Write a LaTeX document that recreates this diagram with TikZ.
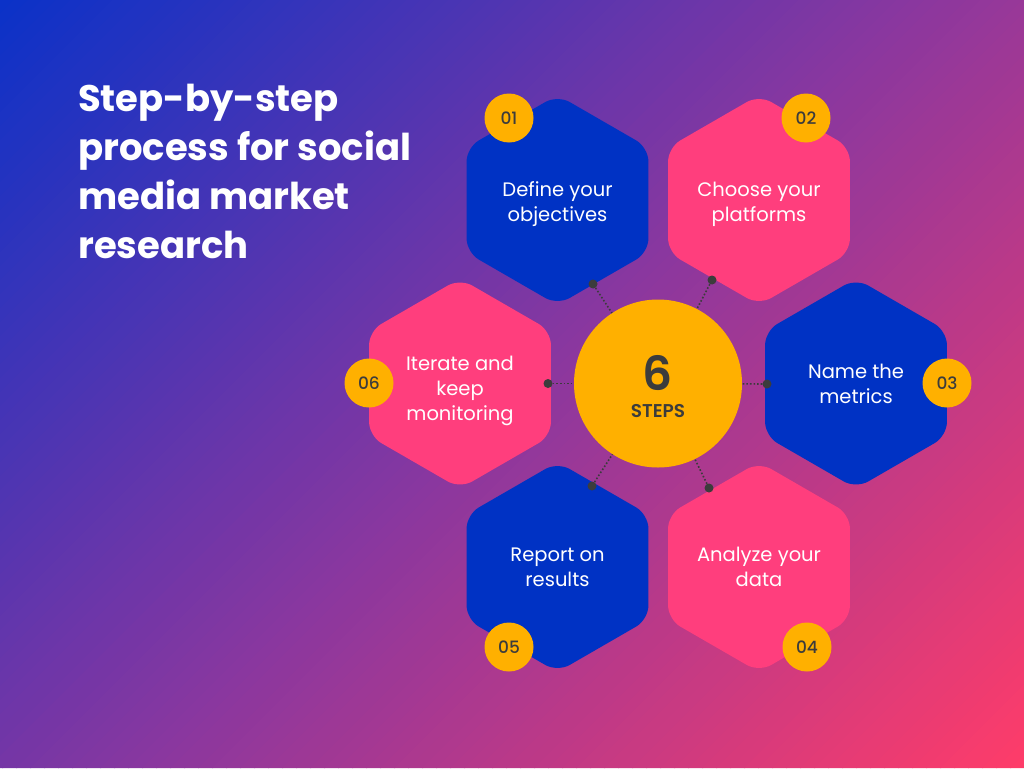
\documentclass[tikz,border=0pt]{standalone}
\usepackage{fontspec}
\setmainfont{Poppins}
\newfontfamily\popmed{Poppins Medium}
\newfontfamily\popsemi{Poppins SemiBold}
\usetikzlibrary{shapes.geometric}
\definecolor{bgblue}{RGB}{10,50,200}
\definecolor{bgpurple}{RGB}{135,55,160}
\definecolor{bgpink}{RGB}{255,60,105}
\definecolor{hexblue}{RGB}{0,50,196}
\definecolor{hexpink}{RGB}{255,62,125}
\definecolor{gold}{RGB}{255,176,0}
\definecolor{ink}{RGB}{60,60,60}
\begin{document}
\begin{tikzpicture}[x=1pt,y=-1pt,
  hexbox/.style={regular polygon, regular polygon sides=6, shape border rotate=30,
    minimum size=210pt, inner sep=0pt, outer sep=0pt, rounded corners=14pt},
  hexb/.style={hexbox, fill=hexblue},
  hexp/.style={hexbox, fill=hexpink},
  hextext/.style={align=center, text=white, inner sep=0pt,
    font=\fontsize{19.5}{25}\selectfont},
  badge/.style={circle, fill=gold, minimum size=49pt, inner sep=0pt,
    text=ink, font=\fontsize{17}{18}\selectfont\popmed},
  hub/.style={circle, fill=gold, minimum size=168pt, inner sep=0pt},
  dotmark/.style={circle, fill=ink, minimum size=9pt, inner sep=0pt},
  link/.style={ink, line width=1.6pt, dash pattern=on 1.6pt off 2pt},
  title/.style={anchor=base west, inner sep=0pt, text=white,
    font=\fontsize{37}{49}\selectfont\bfseries}]
\useasboundingbox (0,0) rectangle (1024,768);
% background gradient
\begin{scope}
\clip (0,0) rectangle (1024,768);
\foreach \i in {0,...,127} {
  \pgfmathsetmacro{\f}{(\i+0.5)/128}
  \pgfmathsetmacro{\sa}{14*\i}
  \pgfmathsetmacro{\sb}{14*\i+15}
  \ifdim \f pt < 0.5pt
    \pgfmathsetmacro{\p}{200*\f}\colorlet{strip}{bgpurple!\p!bgblue}
  \else
    \pgfmathsetmacro{\p}{200*\f-100}\colorlet{strip}{bgpink!\p!bgpurple}
  \fi
  \fill[strip] (\sa,0) -- (\sb,0) -- (\sb-768,768) -- (\sa-768,768) -- cycle;
}
\end{scope}
% title
\node[title] (t1) at (78,111) {Step-by-step};
\node[title] (t2) at (78,160) {process for social};
\node[title] (t3) at (78,209) {media market};
\node[title] (t4) at (78,258) {research};
% hexagons
\node[hexb] (h1) at (557.5,200) {};
\node[hexp] (h2) at (759,200) {};
\node[hexb] (h3) at (856,383.5) {};
\node[hexp] (h4) at (759,567) {};
\node[hexb] (h5) at (557.5,567) {};
\node[hexp] (h6) at (460,383.5) {};
\node[hextext] (h1t) at ([yshift=-3.5pt]h1.center) {Define your\strut\\objectives\strut};
\node[hextext] (h2t) at ([yshift=-3.5pt]h2.center) {Choose your\strut\\platforms\strut};
\node[hextext] (h3t) at ([yshift=-2pt]h3.center) {Name the\strut\\metrics\strut};
\node[hextext] (h4t) at ([yshift=-2pt]h4.center) {Analyze your\strut\\data\strut};
\node[hextext] (h5t) at ([yshift=-2pt]h5.center) {Report on\strut\\results\strut};
\node[hextext] (h6t) at ([yshift=-6.5pt]h6.center) {Iterate and\strut\\keep\strut\\monitoring\strut};
% hub
\node[hub] (c) at (658,383.5) {};
\node[text=ink, font=\fontsize{47}{47}\selectfont\popsemi] (six) at (658,373) {6};
\node[text=ink, font=\fontsize{18.5}{20}\selectfont\popsemi] (steps) at (658,411.5) {STEPS};
% dots
\node[dotmark] (d1) at (593,284) {};
\node[dotmark] (d2) at (712,280) {};
\node[dotmark] (d3) at (767,384) {};
\node[dotmark] (d4) at (709,488) {};
\node[dotmark] (d5) at (592,486) {};
\node[dotmark] (d6) at (548,383.5) {};
\foreach \k in {1,...,6} { \draw[link] (d\k) -- (c); }
% badges
\node[badge] (b1) at (509,118) {01};
\node[badge] (b2) at (806,118) {02};
\node[badge] (b3) at (947,383) {03};
\node[badge] (b4) at (807,647) {04};
\node[badge] (b5) at (509,647) {05};
\node[badge] (b6) at (369,383) {06};
\end{tikzpicture}
\end{document}
